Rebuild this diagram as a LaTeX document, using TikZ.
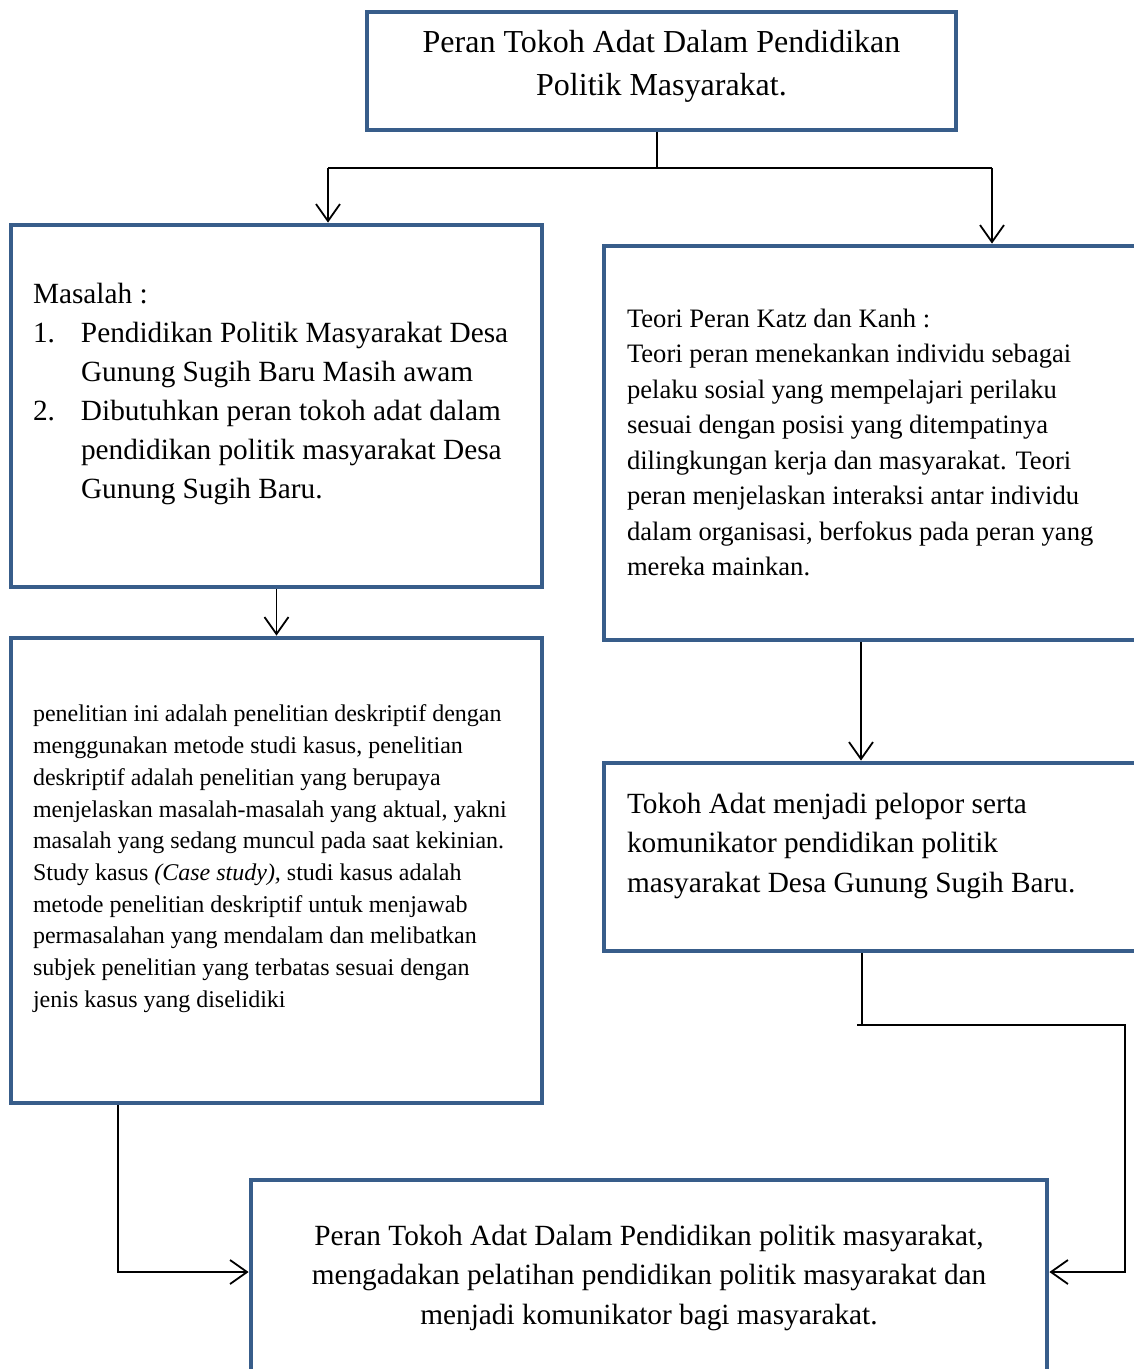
\documentclass[tikz,border=0pt]{standalone}
\usepackage{fontspec}
\setmainfont{Liberation Serif}
\usetikzlibrary{arrows.meta}
\definecolor{boxblue}{RGB}{56,93,138}
\tikzset{
  frame/.style={draw=boxblue, line width=4.8pt, rectangle, inner sep=0pt, fill=none},
  conn/.style={draw=black, line width=1.8pt},
  arr/.style={conn, -{Straight Barb[length=17pt,width=24pt,line width=1.8pt]}},
  txt/.style={inner sep=0pt, outer sep=0pt},
}
\newcommand{\fsz}[2]{\fontsize{#1pt}{#2pt}\selectfont}
\begin{document}
\begin{tikzpicture}[x=1pt,y=-1pt]
\useasboundingbox (0,0) rectangle (1134,1369);
\clip (0,0) rectangle (1134,1369);
\fill[white] (0,0) rectangle (1134,1369);

% frames
\node[frame, minimum width=589pt, minimum height=118pt] (top) at (661.5,71) {};
\node[frame, minimum width=531pt, minimum height=362pt] (masalah) at (276.5,406) {};
\node[frame, minimum width=546pt, minimum height=394pt] (teori) at (877,443) {};
\node[frame, minimum width=531pt, minimum height=465pt] (kasus) at (276.5,870.5) {};
\node[frame, minimum width=546pt, minimum height=188pt] (tokoh) at (877,857) {};
\node[frame, minimum width=796pt, minimum height=195pt] (hasil) at (649,1277.5) {};

% texts
\node[txt, anchor=north, align=center, font=\fsz{32}{43}] (topT) at (661.5,30)
 {Peran Tokoh Adat Dalam Pendidikan\\Politik Masyarakat.};

\node[txt, anchor=north west, align=left, font=\fsz{29.3}{39}] (masalahT) at (33,283)
 {Masalah :\\
  \makebox[48pt][l]{1.}Pendidikan Politik Masyarakat Desa\\
  \hspace*{48pt}Gunung Sugih Baru Masih awam\\
  \makebox[48pt][l]{2.}Dibutuhkan peran tokoh adat dalam\\
  \hspace*{48pt}pendidikan politik masyarakat Desa\\
  \hspace*{48pt}Gunung Sugih Baru.};

\node[txt, anchor=north west, align=left, font=\fsz{26.6}{35.5}] (teoriT) at (627,309)
 {Teori Peran Katz dan Kanh :\\
  Teori peran menekankan individu sebagai\\
  pelaku sosial yang mempelajari perilaku\\
  sesuai dengan posisi yang ditempatinya\\
  dilingkungan kerja dan masyarakat. Teori\\
  peran menjelaskan interaksi antar individu\\
  dalam organisasi, berfokus pada peran yang\\
  mereka mainkan.};

\node[txt, anchor=north west, align=left, font=\fsz{24}{31.7}] (kasusT) at (33,705)
 {penelitian ini adalah penelitian deskriptif dengan\\
  menggunakan metode studi kasus, penelitian\\
  deskriptif adalah penelitian yang berupaya\\
  menjelaskan masalah-masalah yang aktual, yakni\\
  masalah yang sedang muncul pada saat kekinian.\\
  Study kasus \textit{(Case study),} studi kasus adalah\\
  metode penelitian deskriptif untuk menjawab\\
  permasalahan yang mendalam dan melibatkan\\
  subjek penelitian yang terbatas sesuai dengan\\
  jenis kasus yang diselidiki};

\node[txt, anchor=north west, align=left, font=\fsz{29.3}{39.5}] (tokohT) at (627,793)
 {Tokoh Adat menjadi pelopor serta\\
  komunikator pendidikan politik\\
  masyarakat Desa Gunung Sugih Baru.};

\node[txt, anchor=north, align=center, font=\fsz{29.3}{39.5}] (hasilT) at (649,1225)
 {Peran Tokoh Adat Dalam Pendidikan politik masyarakat,\\
  mengadakan pelatihan pendidikan politik masyarakat dan\\
  menjadi komunikator bagi masyarakat.};

% connector coordinates
\coordinate (j1) at (657,168);
\coordinate (jL) at (328,168);
\coordinate (jR) at (992,168);
\coordinate (t1) at (861,0);
\coordinate (t2) at (862,0);
\coordinate (rA) at (857,1025);
\coordinate (rB) at (1125,1025);
\coordinate (rC) at (1125,1272);
\coordinate (lA) at (118,1272);

% connectors
\draw[conn] (top.south -| j1) -- (j1);
\draw[conn] (jR) -- (jL);
\draw[arr] (jL) -- (jL |- masalah.north);
\draw[arr] (jR) -- (jR |- teori.north);
\draw[arr] (masalah.south) -- (kasus.north);
\draw[arr] (t1 |- teori.south) -- (t1 |- tokoh.north);
\draw[conn] (t2 |- tokoh.south) -- (t2 |- rA);
\draw[arr] (rA) -- (rB) -- (rC) -- (rC -| hasil.east);
\draw[arr] (kasus.south -| lA) -- (lA) -- (lA -| hasil.west);
\end{tikzpicture}
\end{document}
